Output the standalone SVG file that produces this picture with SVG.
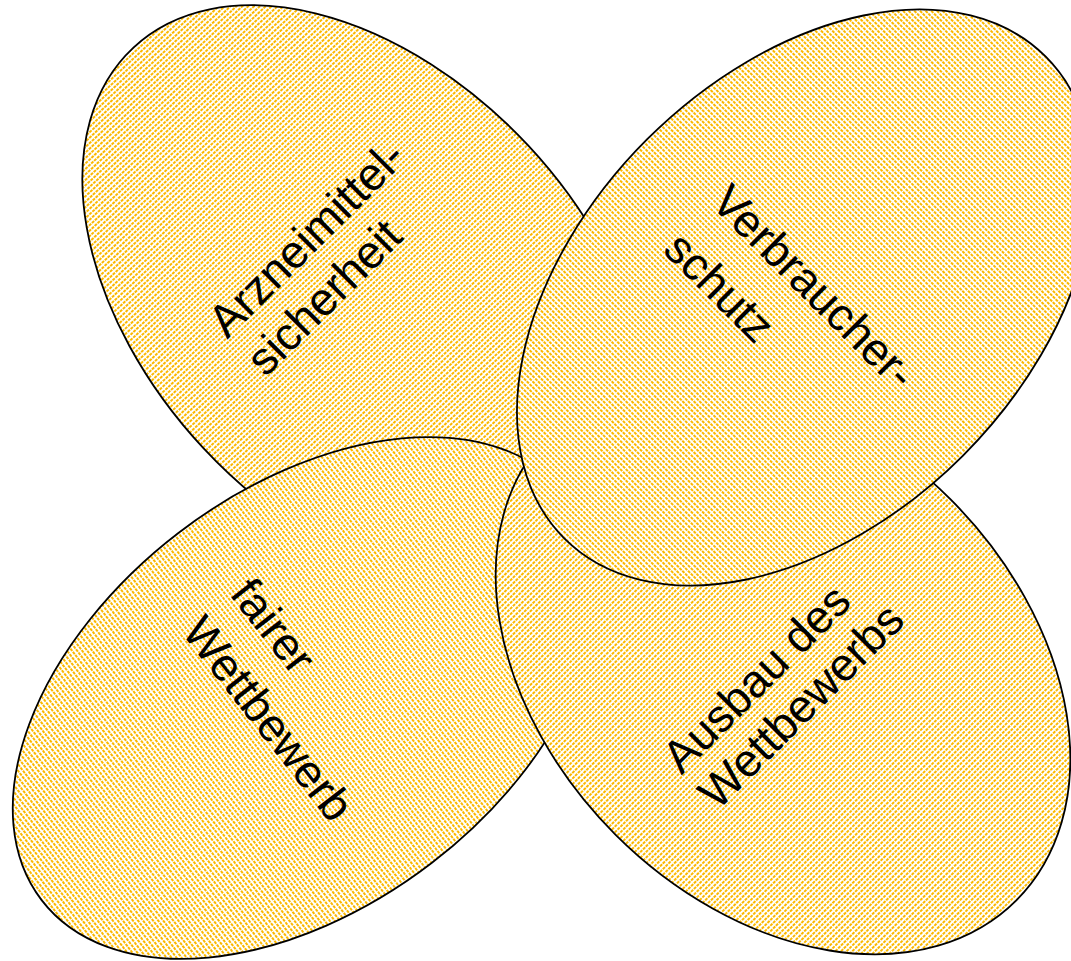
<svg xmlns="http://www.w3.org/2000/svg" width="1071" height="961" viewBox="0 0 1071 961">
  <defs>
    <!-- fine dotted gold fill used by every petal -->
    <pattern id="dots" patternUnits="userSpaceOnUse" width="4" height="4">
      <rect width="4" height="4" fill="#ffffff"/>
      <rect width="2" height="3" fill="#fbb800"/>
    </pattern>
  </defs>
  <style>
    .petal { fill: url(#dots); stroke: #000000; stroke-width: 1.8; }
    .label { font-family: "Liberation Sans", Arial, sans-serif; font-size: 46px; fill: #000000; }
  </style>
  <rect width="1071" height="961" fill="#ffffff"/>

  <g id="arzneimittelsicherheit">
    <ellipse class="petal" cx="366" cy="297" rx="341" ry="222" transform="rotate(47 366 297)"/>
    <text class="label" transform="translate(317 250) rotate(-45)">
      <tspan x="-127" y="0">Arzneimittel-</tspan>
      <tspan x="-127" y="54">sicherheit</tspan>
    </text>
  </g>

  <g id="fairer-wettbewerb">
    <ellipse class="petal" cx="305" cy="698" rx="332" ry="208" transform="rotate(-37.5 305 698)"/>
    <text class="label" transform="translate(260.7 635.3) rotate(52)">
      <tspan x="-52" y="0">fairer</tspan>
      <tspan x="-52" y="61">Wettbewerb</tspan>
    </text>
  </g>

  <g id="ausbau-des-wettbewerbs">
    <ellipse class="petal" cx="783" cy="667" rx="330" ry="237" transform="rotate(45 783 667)"/>
    <text class="label" transform="translate(767 690) rotate(-45)">
      <tspan x="-121" y="0">Ausbau des</tspan>
      <tspan x="-121" y="51">Wettbewerbs</tspan>
    </text>
  </g>

  <g id="verbraucherschutz">
    <ellipse class="petal" cx="805" cy="297.5" rx="340.5" ry="223.5" transform="rotate(-45 805 297.5)"/>
    <text class="label" transform="translate(803 298) rotate(45)">
      <tspan x="-133" y="0">Verbraucher-</tspan>
      <tspan x="-133" y="67">schutz</tspan>
    </text>
  </g>

  <g id="connectors"/>
</svg>
